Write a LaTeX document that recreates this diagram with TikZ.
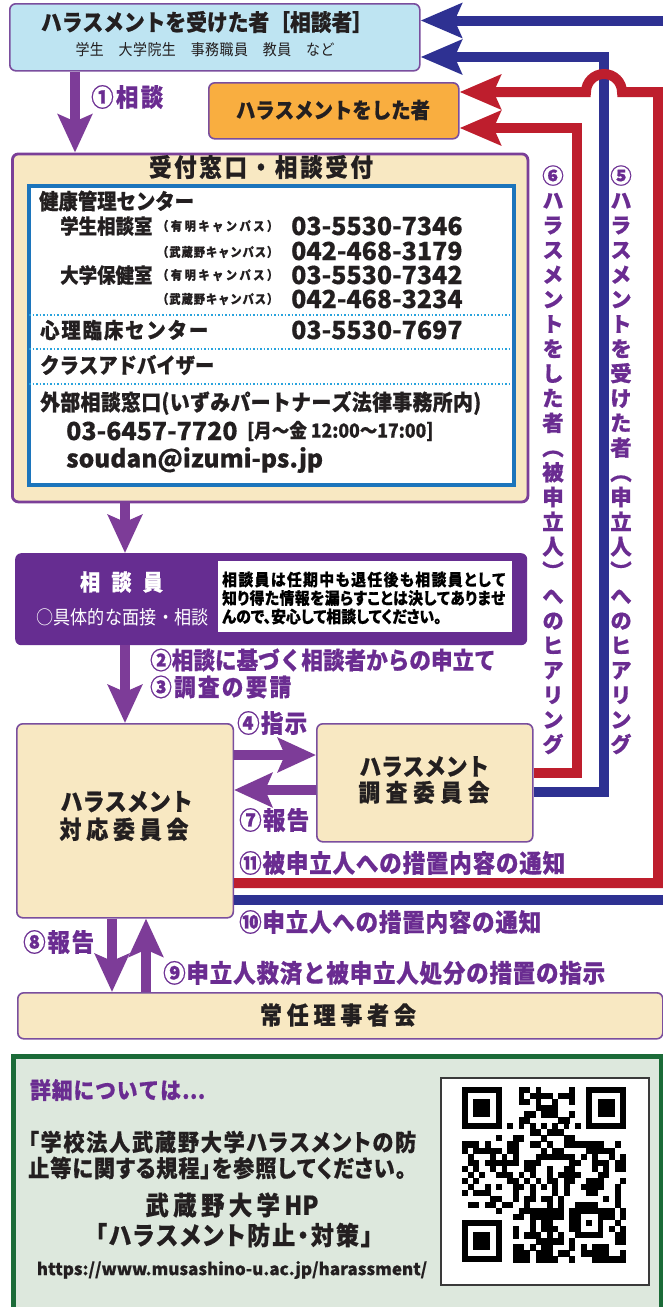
\documentclass[tikz,border=0pt]{standalone}
\usepackage{fontspec}
\setmainfont{Noto Sans CJK JP}[FakeStretch=0.9, BoldFeatures={FakeBold=0.6}]
\newfontfamily\numfont{Noto Sans CJK JP}[BoldFeatures={FakeBold=0.4}]
\newfontfamily\vjp{Noto Sans CJK JP}[RawFeature=+vert, BoldFeatures={FakeBold=0.6}]
\usetikzlibrary{arrows.meta}
\definecolor{lblue}{HTML}{BEE4F2}
\definecolor{orangebox}{HTML}{F9AE40}
\definecolor{cream}{HTML}{F8E8C2}
\definecolor{bpurple}{HTML}{7A4E9E}
\definecolor{upurple}{HTML}{7B3F98}
\definecolor{dpurple}{HTML}{662D91}
\definecolor{apurple}{HTML}{7D3C98}
\definecolor{tpurple}{HTML}{6A2C91}
\definecolor{nblue}{HTML}{2E3192}
\definecolor{nred}{HTML}{BE1E2D}
\definecolor{iblue}{HTML}{1C75BC}
\definecolor{dotblue}{HTML}{29A3DD}
\definecolor{tgray}{HTML}{231F20}
\definecolor{gfill}{HTML}{DDE8DD}
\definecolor{gborder}{HTML}{1B6B38}
\definecolor{qrgray}{HTML}{3A3A3A}
\newcommand\fz[2]{\fontsize{#1}{#2}\selectfont}
\newcommand\palt{\addfontfeatures{RawFeature=+palt}}
\ExplSyntaxOn
\NewDocumentCommand\spr{mm}{\makebox[#1][s]{\tl_map_inline:nn{#2}{##1\hfil}\unskip}}
\NewDocumentCommand\vstack{m}{\vbox:n{\offinterlineskip\tl_map_inline:nn{#1}{\hbox_to_wd:nn{1.3em}{\hss\vrule~height~0.95em~depth~0.2em~width~0pt\relax ##1\hss}}}}
\ExplSyntaxOff
\begin{document}
\begin{tikzpicture}[x=1pt,y=-1pt,
  bx/.style={draw=bpurple,line width=1.6pt,rounded corners=6pt,inner sep=0pt,anchor=north west},
  tx/.style={inner sep=0pt,text=tgray},
  lb/.style={inner sep=0pt,anchor=west,text=tpurple},
  parrow/.style={draw=apurple,line width=10pt,-{Stealth[length=38pt,width=34pt,inset=7pt]}},
  rline/.style={draw=nred,line width=10pt,-{Stealth[length=41pt,width=34pt,inset=7pt]}},
  bline/.style={draw=nblue,line width=10pt,-{Stealth[length=41pt,width=34pt,inset=7pt]}},
]
\useasboundingbox (0,0) rectangle (663,1307);
\fill[white] (0,0) rectangle (663,1307);
\clip (0,0) rectangle (663,1307);

% ---------- boxes ----------
\node[bx,fill=lblue,minimum width=410pt,minimum height=67pt] (victim) at (9,3) {};
\node[bx,fill=orangebox,minimum width=250pt,minimum height=56pt] (actor) at (208,82) {};
\node[bx,draw=upurple,line width=2.8pt,fill=cream,minimum width=515.5pt,minimum height=348pt] (uketsuke) at (11,152.5) {};
\node[draw=iblue,line width=4.4pt,fill=white,minimum width=485.4pt,minimum height=299.5pt,inner sep=0pt,anchor=north west] (inner) at (26.6,183.5) {};
\foreach \yy in {315,349,384}
  \draw[dotblue,line width=1.6pt,dash pattern=on 1.6pt off 1.9pt] (29,\yy) -- (510,\yy);
\node[anchor=north west,fill=dpurple,rounded corners=6pt,minimum width=512pt,minimum height=92pt,inner sep=0pt] (soudanin) at (15,553) {};
\node[anchor=north west,fill=white,minimum width=294pt,minimum height=71pt,inner sep=0pt] (notice) at (218,561) {};
\node[bx,fill=cream,minimum width=216.5pt,minimum height=194pt] (taiou) at (16,723) {};
\node[bx,fill=cream,minimum width=216pt,minimum height=118pt] (chousa) at (316,723) {};
\node[bx,fill=cream,minimum width=645pt,minimum height=46pt] (jounin) at (17,992) {};
\draw[gborder,fill=gfill,line width=5pt] (13,1056) rectangle (661,1340);
\node[draw=qrgray,line width=1.5pt,fill=white,minimum width=208pt,minimum height=207pt,anchor=north west,inner sep=0pt] (qr) at (440,1077) {};

% ---------- purple arrows ----------
\draw[parrow] ([xshift=66pt]victim.south west) -- ([xshift=64pt]uketsuke.north west);
\draw[parrow] ([xshift=114pt]uketsuke.south west) -- ([xshift=110pt]soudanin.north west);
\draw[parrow] ([xshift=110pt]soudanin.south west) -- ([xshift=109pt]taiou.north west);
\draw[parrow] ([yshift=-32pt]taiou.north east) -- ([yshift=-32pt]chousa.north west);
\draw[parrow] ([yshift=-67pt]chousa.north west) -- ([yshift=-67pt]taiou.north east);
\draw[parrow] ([xshift=96pt]taiou.south west) -- ([xshift=95pt]jounin.north west);
\draw[parrow] ([xshift=129pt]jounin.north west) -- ([xshift=130pt]taiou.south west);

% ---------- red / blue routes ----------
\coordinate (b1a) at (676,900);
\coordinate (b1b) at (676,20.5);
\coordinate (b2a) at (604,792);
\coordinate (b2b) at (604,57);
\coordinate (r1a) at (658,883);
\coordinate (r1b) at (658,92);
\coordinate (r1c) at (622,92);
\coordinate (r2a) at (577,773);
\coordinate (r2b) at (577,128);
\draw[bline] ([yshift=-177pt]taiou.north east) -- (b1a) -- (b1b) -- ([yshift=-17.5pt]victim.north east);
\draw[bline] ([yshift=-69pt]chousa.north east) -- (b2a) -- (b2b) -- ([yshift=-54pt]victim.north east);
\draw[rline] ([yshift=-160pt]taiou.north east) -- (r1a) -- (r1b) -- (r1c) arc[start angle=0,end angle=180,radius=18pt] -- ([yshift=-10pt]actor.north east);
\draw[rline] ([yshift=-50pt]chousa.north east) -- (r2a) -- (r2b) -- ([yshift=-46pt]actor.north east);

% ---------- texts ----------
\node[tx,font=\bfseries\fz{23}{26}] (victimT) at (207,22) {\spr{332pt}{ハラスメントを受けた者［相談者］}};
\node[tx,font=\fz{15.5}{18}] (victimS) at (205,50) {\spr{259pt}{学生　大学院生　事務職員　教員　など}};
\node[tx,font=\bfseries\fz{21.5}{25}] (actorT) at (333,110) {\spr{194pt}{ハラスメントをした者}};
\node[lb,font=\bfseries\fz{25}{27}] (l1) at (91,97) {\spr{72pt}{①相談}};

\node[tx,font=\bfseries\fz{25}{28}] (uketsukeT) at (261,167) {\spr{224pt}{受付窓口・相談受付}};
\node[tx,anchor=west,font=\bfseries\fz{21.5}{24}] (kenkou) at (39,201) {\spr{154pt}{健康管理センター}};
\node[tx,anchor=west,font=\bfseries\fz{20.5}{24}] (gakusei) at (60,226) {\spr{92pt}{学生相談室}};
\node[tx,anchor=west,font=\bfseries\fz{20.5}{24}] (hoken) at (60,275) {\spr{92pt}{大学保健室}};
\node[tx,anchor=west,font=\bfseries\fz{12.5}{15}] (c1) at (157,226) {\spr{121pt}{（有明キャンパス）}};
\node[tx,anchor=west,font=\bfseries\fz{12.5}{15}] (c2) at (157,252) {\spr{121pt}{（武蔵野キャンパス）}};
\node[tx,anchor=west,font=\bfseries\fz{12.5}{15}] (c3) at (157,275) {\spr{121pt}{（有明キャンパス）}};
\node[tx,anchor=west,font=\bfseries\fz{12.5}{15}] (c4) at (157,299) {\spr{121pt}{（武蔵野キャンパス）}};
\node[tx,anchor=west,font=\numfont\bfseries\fz{25}{27}] (n1) at (291,226) {03-5530-7346};
\node[tx,anchor=west,font=\numfont\bfseries\fz{25}{27}] (n2) at (291,251) {042-468-3179};
\node[tx,anchor=west,font=\numfont\bfseries\fz{25}{27}] (n3) at (291,275) {03-5530-7342};
\node[tx,anchor=west,font=\numfont\bfseries\fz{25}{27}] (n4) at (291,299) {042-468-3234};
\node[tx,anchor=west,font=\bfseries\fz{21.5}{24}] (shinri) at (40,330) {\spr{168pt}{心理臨床センター}};
\node[tx,anchor=west,font=\numfont\bfseries\fz{25}{27}] (n5) at (291,330) {03-5530-7697};
\node[tx,anchor=west,font=\bfseries\fz{21.5}{24}] (class) at (40,365) {\spr{173pt}{クラスアドバイザー}};
\node[tx,anchor=west,font=\bfseries\fz{22}{25}] (gaibu) at (40,403) {\spr{441pt}{外部相談窓口(いずみパートナーズ法律事務所内)}};
\node[tx,anchor=west,font=\numfont\bfseries\fz{25}{27}] (n6) at (66,431) {03-6457-7720};
\node[tx,anchor=west,font=\bfseries\fz{19.5}{22}] (hours) at (247,431) {[月～金 12:00～17:00]};
\node[tx,anchor=west,font=\numfont\bfseries\fz{24.5}{27}] (mail) at (66,460) {soudan@izumi-ps.jp};

\node[text=white,font=\bfseries\fz{22.5}{25},inner sep=0pt] (soudaninT) at (121.5,582) {\spr{83pt}{相談員}};
\node[text=white,font=\fz{19}{21},inner sep=0pt] (soudaninS) at (122.5,617) {\spr{173pt}{○具体的な面接・相談}};
\node[anchor=west,align=left,font=\bfseries\fz{16.5}{18.5}\palt,text=black,inner sep=0pt] (noticeT) at (222,598)
  {\spr{283pt}{相談員は任期中も退任後も相談員として}\\\spr{283pt}{知り得た情報を漏らすことは決してありませ}\\んので、安心して相談してください。};

\node[lb,font=\bfseries\fz{24}{26}] (l2) at (150,660) {\spr{345pt}{②相談に基づく相談者からの申立て}};
\node[lb,font=\bfseries\fz{24}{26}] (l3) at (150,687) {\spr{141pt}{③調査の要請}};
\node[lb,font=\bfseries\fz{25}{26}] (l4) at (237,723) {\spr{70pt}{④指示}};
\node[lb,font=\bfseries\fz{25}{26}] (l7) at (239,820) {\spr{70pt}{⑦報告}};
\node[lb,font=\bfseries\fz{25}{26}] (l11) at (239,863) {\spr{326pt}{⑪被申立人への措置内容の通知}};
\node[lb,font=\bfseries\fz{25}{26}] (l10) at (239,922) {\spr{302pt}{⑩申立人への措置内容の通知}};
\node[lb,font=\bfseries\fz{25}{26}] (l8) at (23,942) {\spr{71pt}{⑧報告}};
\node[lb,font=\bfseries\fz{25}{26}] (l9) at (163,973) {\spr{442pt}{⑨申立人救済と被申立人処分の措置の指示}};

\node[tx,align=center,font=\bfseries\fz{24.5}{28}] (taiouT) at (124,816) {\spr{127pt}{ハラスメント}\\\spr{129pt}{対応委員会}};
\node[tx,align=center,font=\bfseries\fz{24}{26}] (chousaT) at (424,780) {\spr{129pt}{ハラスメント}\\\spr{131pt}{調査委員会}};
\node[tx,font=\bfseries\fz{24.5}{27}] (jouninT) at (338,1015) {\spr{156pt}{常任理事者会}};

\node[inner sep=0pt,text=tpurple,font=\vjp\bfseries\fz{21.5}{24}] (v6) at (553,460) {\vstack{⑥ハラスメントをした者（被申立人）へのヒアリング}};
\node[inner sep=0pt,text=tpurple,font=\vjp\bfseries\fz{21.5}{24}] (v5) at (621,460) {\vstack{⑤ハラスメントを受けた者（申立人）へのヒアリング}};

% ---------- green info box ----------
\node[lb,font=\bfseries\fz{23}{25}] (g1) at (30,1090) {\spr{175pt}{詳細については…}};
\node[tx,anchor=west,font=\bfseries\fz{23.5}{26}\palt] (g2) at (28,1142) {\spr{388pt}{「学校法人武蔵野大学ハラスメントの防}};
\node[tx,anchor=west,font=\bfseries\fz{23.5}{26}\palt] (g3) at (28,1168) {\spr{378pt}{止等に関する規程」を参照してください。}};
\node[tx,font=\bfseries\fz{26}{28}] (g4) at (232,1205) {\spr{173pt}{武蔵野大学{HP}}};
\node[tx,font=\bfseries\fz{25.5}{28}\palt] (g5) at (234,1235) {\spr{277pt}{「ハラスメント防止・対策」}};
\node[tx,font=\numfont\bfseries\fz{17}{20}] (g6) at (232,1270) {https://www.musashino-u.ac.jp/harassment/};

% ---------- QR code (approximation) ----------
\begin{scope}[shift={(462,1087)},x=5.655pt,y=-6.05pt]
  \pgfmathsetseed{7}
  \foreach \r in {0,...,28}{\foreach \c in {0,...,28}{
    \pgfmathtruncatemacro\skipq{((\r<9)&&(\c<9))||((\r<9)&&(\c>19))||((\r>19)&&(\c<9))||(\r==6)||(\c==6)||((\r>19)&&(\r<25)&&(\c>19)&&(\c<25))}
    \ifnum\skipq=0
      \pgfmathtruncatemacro\onq{rnd<0.47}
      \ifnum\onq=1 \fill[black] (\c,\r) rectangle ++(1.04,1.04); \fi
    \fi
  }}
  \foreach \fx/\fy in {0/0,22/0,0/22}{
    \fill[black] (\fx,\fy) rectangle ++(7,7);
    \fill[white] (\fx+1,\fy+1) rectangle ++(5,5);
    \fill[black] (\fx+2,\fy+2) rectangle ++(3,3);
  }
  \fill[black] (20,20) rectangle (25,25);
  \fill[white] (21,21) rectangle (24,24);
  \fill[black] (22,22) rectangle (23,23);
  \foreach \i in {8,10,...,20}{
    \fill[black] (\i,6) rectangle ++(1,1);
    \fill[black] (6,\i) rectangle ++(1,1);
  }
\end{scope}
\end{tikzpicture}
\end{document}
